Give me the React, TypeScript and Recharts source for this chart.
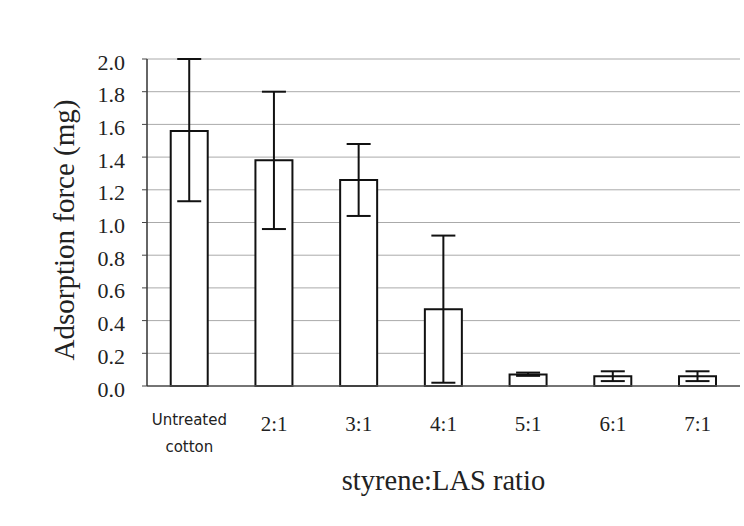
import React from "react";
import { BarChart, Bar, XAxis, YAxis, CartesianGrid, ErrorBar, Label } from "recharts";

const categories = ["Untreated cotton", "2:1", "3:1", "4:1", "5:1", "6:1", "7:1"];
const values = [1.56, 1.38, 1.26, 0.47, 0.07, 0.06, 0.06];
const errLow = [0.43, 0.42, 0.22, 0.45, 0.008, 0.03, 0.03];
const errHigh = [0.44, 0.42, 0.22, 0.45, 0.012, 0.03, 0.03];
const yTicks = [0, 0.2, 0.4, 0.6, 0.8, 1.0, 1.2, 1.4, 1.6, 1.8, 2.0];

const data = categories.map((c, i) => ({
  name: c,
  value: values[i],
  err: [errLow[i], errHigh[i]],
}));

const SERIF = "Liberation Serif";
const SANS = "DejaVu Sans";

const XTick = (props: any) => {
  const { x, y, payload } = props;
  const v: string = payload.value;
  if (v === "Untreated cotton") {
    return (
      <g>
        <text x={x} y={y + 26} textAnchor="middle" dominantBaseline="central" style={{ fontFamily: SANS, fontSize: 15 }} fill="#222">Untreated</text>
        <text x={x} y={y + 53} textAnchor="middle" dominantBaseline="central" style={{ fontFamily: SANS, fontSize: 15 }} fill="#222">cotton</text>
      </g>
    );
  }
  return (
    <text x={x} y={y + 30} textAnchor="middle" dominantBaseline="central" style={{ fontFamily: SERIF, fontSize: 21 }} fill="#222">{v}</text>
  );
};

const YTick = (props: any) => {
  const { x, y, payload } = props;
  return (
    <text x={x} y={y + 3} textAnchor="end" dominantBaseline="central" style={{ fontFamily: SERIF, fontSize: 22 }} fill="#222">
      {Number(payload.value).toFixed(1)}
    </text>
  );
};

export default function App() {
  return (
    <div style={{ position: "absolute", left: 0, top: 0, width: 744, height: 526, background: "#fff" }}>
      <BarChart
        width={744}
        height={526}
        data={data}
        margin={{ top: 59, right: 4, bottom: 0, left: 0 }}
        barCategoryGap="28%"
      >
        <CartesianGrid vertical={false} stroke="#aaa" strokeWidth={1} />
        <XAxis
          dataKey="name"
          height={140}
          tickLine={false}
          axisLine={{ stroke: "#555", strokeWidth: 1.5 }}
          tick={<XTick />}
          interval={0}
        >
          <Label
            content={(p: any) => {
              const vb = p.viewBox || {};
              const cx = (vb.x ?? 147) + (vb.width ?? 593) / 2;
              return (
                <text x={cx} y={480} textAnchor="middle" dominantBaseline="central" style={{ fontFamily: SERIF, fontSize: 28.5 }} fill="#222">
                  styrene:LAS ratio
                </text>
              );
            }}
          />
        </XAxis>
        <YAxis
          domain={[0, 2]}
          ticks={yTicks}
          width={147}
          tickLine={{ stroke: "#444" }}
          tickSize={5}
          tickMargin={17}
          axisLine={{ stroke: "#333", strokeWidth: 1.5 }}
          tick={<YTick />}
          interval={0}
        >
          <Label
            content={() => (
              <text
                x={64}
                y={230}
                transform="rotate(-90 64 230)"
                textAnchor="middle"
                dominantBaseline="central"
                style={{ fontFamily: SERIF, fontSize: 29 }}
                fill="#222"
              >
                Adsorption force (mg)
              </text>
            )}
          />
        </YAxis>
        <YAxis
          yAxisId="r"
          orientation="right"
          domain={[0, 2]}
          width={0}
          tick={false}
          tickLine={false}
          axisLine={{ stroke: "#555", strokeWidth: 2 }}
        />
        <Bar dataKey="value" fill="#fff" stroke="#111" strokeWidth={2} isAnimationActive={false}>
          <ErrorBar dataKey="err" width={12} stroke="#111" strokeWidth={2} direction="y" />
        </Bar>
      </BarChart>
    </div>
  );
}
